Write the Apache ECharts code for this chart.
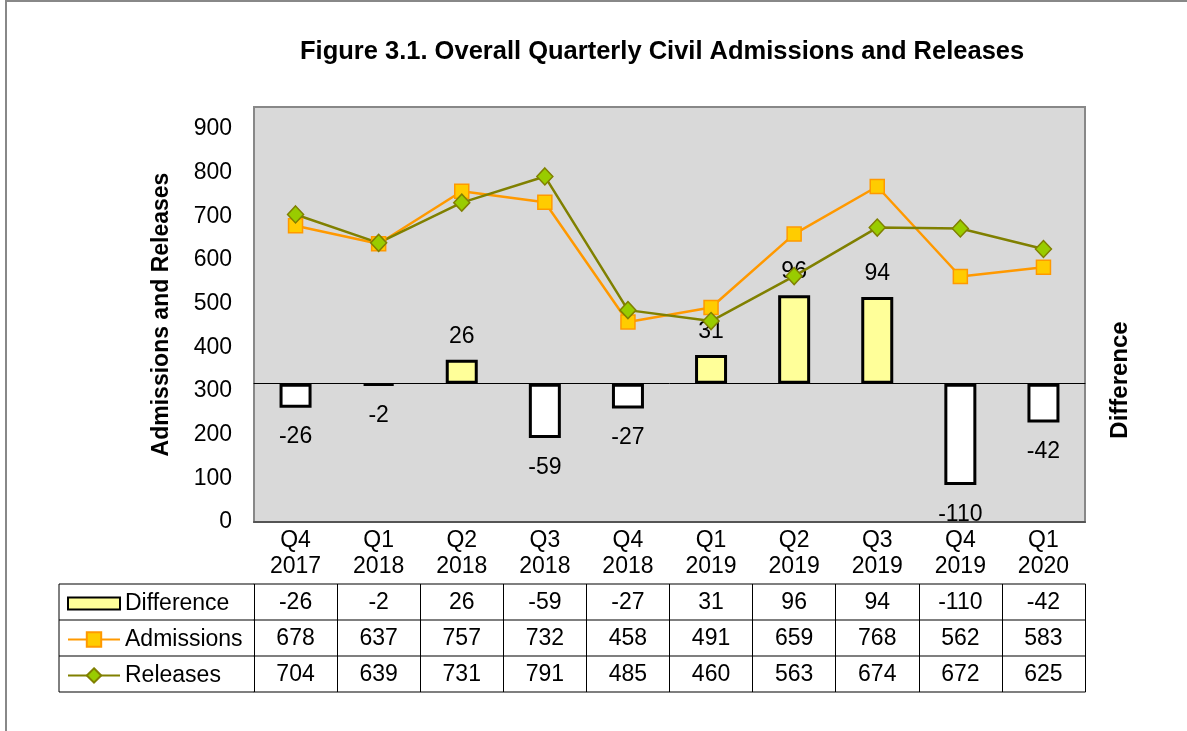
<!DOCTYPE html>
<html>
<head>
<meta charset="utf-8">
<script src="https://cdn.jsdelivr.net/npm/echarts@6/dist/echarts.min.js"></script>
<style>
  html, body { margin: 0; padding: 0; background: #fff; }
  #chart { width: 1187px; height: 731px; }
</style>
</head>
<body>
<div id="chart"></div>
<script>
const quarters = ['Q4 2017', 'Q1 2018', 'Q2 2018', 'Q3 2018', 'Q4 2018', 'Q1 2019', 'Q2 2019', 'Q3 2019', 'Q4 2019', 'Q1 2020']
const difference = [-26, -2, 26, -59, -27, 31, 96, 94, -110, -42]
const admissions = [678, 637, 757, 732, 458, 491, 659, 768, 562, 583]
const releases = [704, 639, 731, 791, 485, 460, 563, 674, 672, 625]

const FONT = '"Liberation Sans", Arial, sans-serif'
const FS = 23
const gridTop = 107
const gridBottom = 522
const rowY = [584, 620, 656, 692]

// one x axis per table row, its labels are the row values
function rowAxis(values, offset, tickLen) {
  return {
    type: 'category',
    position: 'bottom',
    offset: offset,
    data: values.map(String),
    axisLine: { onZero: false, lineStyle: { color: '#555', width: 1.5 } },
    axisTick: { show: tickLen > 0, length: tickLen, lineStyle: { color: '#000', width: 1 } },
    axisLabel: {
      show: values.length > 0,
      interval: 0, margin: 7,
      fontFamily: FONT, fontSize: FS, color: '#000', lineHeight: 23
    }
  }
}

const diffData = difference.map(v => v < 0
  ? { value: v, itemStyle: { color: '#ffffff' }, label: { position: 'bottom', distance: 18 } }
  : { value: v })

const chart = echarts.init(document.getElementById('chart'))

chart.setOption({
  backgroundColor: '#fff',
  animation: false,
  title: {
    text: 'Figure 3.1. Overall Quarterly Civil Admissions and Releases',
    left: 300, top: 39, padding: 0,
    textStyle: { fontFamily: FONT, fontSize: 25.5, fontWeight: 'bold', color: '#000' }
  },
  grid: {
    left: 254, right: 1187 - 1085, top: gridTop, bottom: 731 - gridBottom,
    show: true, backgroundColor: '#d9d9d9', borderColor: '#888', borderWidth: 2,
    outerBoundsMode: 'none'
  },
  legend: [
    { data: [{ name: 'Difference', icon: 'rect' }], top: 592, itemHeight: 12 },
    { data: ['Admissions'], top: 628, itemHeight: 18 },
    { data: ['Releases'], top: 664, itemHeight: 18 }
  ].map(l => Object.assign({
    left: 67, padding: 0, itemWidth: 52, selectedMode: false,
    textStyle: { fontFamily: FONT, fontSize: FS, color: '#000', lineHeight: 23 }
  }, l)),
  xAxis: [
    {
      type: 'category',
      position: 'bottom',
      data: quarters,
      axisLine: { onZero: false, lineStyle: { color: '#555', width: 2 } },
      axisTick: { length: rowY[0] - gridBottom, lineStyle: { color: '#000', width: 1 } },
      axisLabel: {
        interval: 0, margin: 6,
        formatter: q => q.replace(' ', '\n'),
        fontFamily: FONT, fontSize: FS, color: '#000', lineHeight: 26
      }
    },
    rowAxis(difference, rowY[0] - gridBottom, rowY[1] - rowY[0]),
    rowAxis(admissions, rowY[1] - gridBottom, rowY[2] - rowY[1]),
    rowAxis(releases, rowY[2] - gridBottom, rowY[3] - rowY[2]),
    rowAxis([], rowY[3] - gridBottom, 0),
    {
      type: 'category',
      position: 'bottom',
      data: quarters,
      axisLine: { onZero: true, onZeroAxisIndex: 1, lineStyle: { color: '#000', width: 1 } },
      axisTick: { length: 6, lineStyle: { color: '#000', width: 1 } },
      axisLabel: { show: false }
    }
  ],
  yAxis: [
    {
      type: 'value',
      min: 0, max: 950, interval: 100,
      name: 'Admissions and Releases',
      nameLocation: 'middle', nameRotate: 90, nameGap: 81,
      nameTextStyle: { fontFamily: FONT, fontSize: 23, fontWeight: 'bold', color: '#000' },
      axisLine: { show: false },
      axisTick: { show: false },
      splitLine: { show: false },
      axisLabel: {
        showMaxLabel: false, margin: 22,
        fontFamily: FONT, fontSize: FS, color: '#000'
      }
    },
    {
      type: 'value',
      min: -150, max: 300, interval: 150,
      position: 'right',
      axisLine: { show: false },
      axisTick: { show: false },
      splitLine: { show: false },
      axisLabel: { show: false }
    }
  ],
  graphic: [
    {
      type: 'rect', silent: true, z: -10,
      shape: { x: 6, y: 1, width: 1300, height: 900 },
      style: { fill: 'none', stroke: '#888', lineWidth: 2 }
    },
    {
      type: 'text', silent: true,
      x: 1120, y: 380, rotation: Math.PI / 2,
      style: {
        text: 'Difference', fontFamily: FONT, fontSize: 24, fontWeight: 'bold',
        fill: '#000', align: 'center', verticalAlign: 'middle'
      }
    },
    // left part of the data table (legend column)
    ...rowY.map(y => ({
      type: 'line', silent: true,
      shape: { x1: 59, y1: y, x2: 254, y2: y },
      style: { stroke: '#555', lineWidth: 1.5 }
    })),
    {
      type: 'line', silent: true,
      shape: { x1: 59, y1: rowY[0], x2: 59, y2: rowY[3] },
      style: { stroke: '#000', lineWidth: 1 }
    }
  ],
  series: [
    {
      name: 'Difference',
      type: 'bar',
      yAxisIndex: 1,
      barWidth: 32,
      data: diffData,
      itemStyle: { color: '#ffff99', borderColor: '#000', borderWidth: 3 },
      label: {
        show: true, position: 'top', distance: 12,
        fontFamily: FONT, fontSize: FS, color: '#000'
      }
    },
    {
      name: 'Admissions',
      type: 'line',
      data: admissions,
      symbol: 'rect', symbolSize: 14,
      lineStyle: { color: '#ff9900', width: 2.5 },
      itemStyle: { color: '#ffcc00', borderColor: '#ff9900', borderWidth: 1.5 }
    },
    {
      name: 'Releases',
      type: 'line',
      data: releases,
      symbol: 'diamond', symbolSize: [16, 17],
      lineStyle: { color: '#808000', width: 2.5 },
      itemStyle: { color: '#99cc00', borderColor: '#808000', borderWidth: 1.5 }
    }
  ]
})
</script>
</body>
</html>
